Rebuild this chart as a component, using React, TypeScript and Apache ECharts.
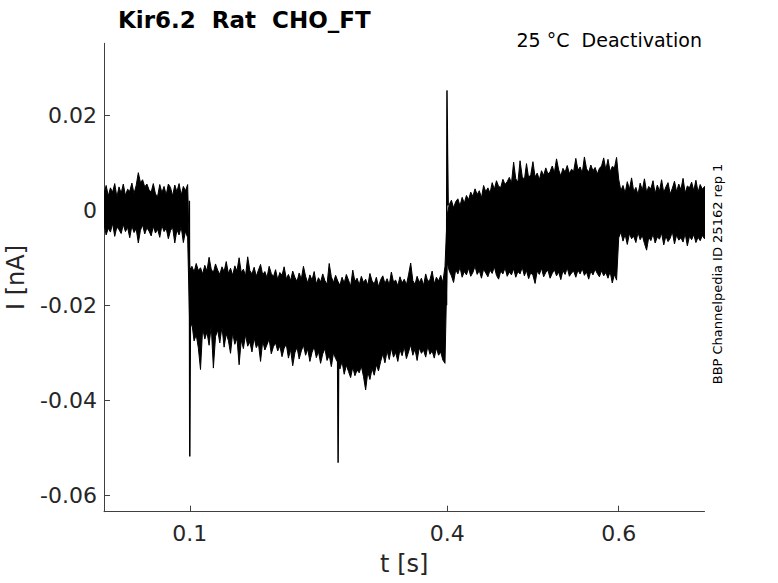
import React, { useEffect, useRef } from "react";
import * as echarts from "echarts";

// Sampling interval of the envelope samples [s]
const SAMPLE_DT = 0.0025;

// Upper / lower envelopes of the overlaid sweeps [nA]
const baseUpper = [0.0035, 0.0052, 0.0030, 0.0047, 0.0038, 0.0056, 0.0028, 0.0049, 0.0036, 0.0055, 0.0031, 0.0044, 0.0040, 0.0057, 0.0035, 0.0052, 0.0079, 0.0058, 0.0064, 0.0049, 0.0055, 0.0043, 0.0038, 0.0056, 0.0034, 0.0029, 0.0054, 0.0037, 0.0050, 0.0032, 0.0055, 0.0048, 0.0030, 0.0053, 0.0039, 0.0056, 0.0032, 0.0050, 0.0041, 0.0054];
const baseLower = [-0.0030, -0.0052, -0.0038, -0.0046, -0.0028, -0.0055, -0.0035, -0.0041, -0.0049, -0.0030, -0.0045, -0.0036, -0.0058, -0.0033, -0.0047, -0.0039, -0.0069, -0.0042, -0.0031, -0.0050, -0.0037, -0.0044, -0.0054, -0.0034, -0.0048, -0.0040, -0.0057, -0.0032, -0.0045, -0.0038, -0.0060, -0.0043, -0.0036, -0.0069, -0.0041, -0.0052, -0.0035, -0.0068, -0.0044, -0.0058];

const pulseUpper = [
  -0.0125, -0.0118, -0.0130, -0.0112, -0.0127, -0.0121, -0.0134, -0.0116, -0.0128, -0.0099,
  -0.0124, -0.0131, -0.0113, -0.0126, -0.0135, -0.0119, -0.0129, -0.0108, -0.0133, -0.0122,
  -0.0137, -0.0117, -0.0128, -0.0100, -0.0131, -0.0124, -0.0138, -0.0098, -0.0127, -0.0134,
  -0.0120, -0.0139, -0.0126, -0.0114, -0.0136, -0.0129, -0.0142, -0.0118, -0.0133, -0.0140,
  -0.0125, -0.0146, -0.0131, -0.0137, -0.0119, -0.0144, -0.0135, -0.0148, -0.0128, -0.0141,
  -0.0150, -0.0132, -0.0145, -0.0118, -0.0139, -0.0153, -0.0136, -0.0147, -0.0129, -0.0155,
  -0.0142, -0.0151, -0.0134, -0.0148, -0.0156, -0.0112, -0.0140, -0.0152, -0.0137, -0.0149,
  -0.0158, -0.0141, -0.0153, -0.0135, -0.0147, -0.0160, -0.0126, -0.0150, -0.0143, -0.0157,
  -0.0139, -0.0152, -0.0145, -0.0158, -0.0133, -0.0149, -0.0155, -0.0141, -0.0161, -0.0146,
  -0.0138, -0.0154, -0.0144, -0.0157, -0.0130, -0.0151, -0.0147, -0.0159, -0.0140, -0.0153,
  -0.0145, -0.0157, -0.0136, -0.0111, -0.0148, -0.0156, -0.0139, -0.0152, -0.0143, -0.0158,
  -0.0134, -0.0150, -0.0146, -0.0128, -0.0155, -0.0141, -0.0149, -0.0137, -0.0152, -0.0118,
];
const pulseLower = [
  -0.0250, -0.0238, -0.0275, -0.0262, -0.0290, -0.0335, -0.0248, -0.0271, -0.0256, -0.0284,
  -0.0243, -0.0332, -0.0266, -0.0252, -0.0279, -0.0245, -0.0288, -0.0260, -0.0274, -0.0301,
  -0.0258, -0.0282, -0.0269, -0.0325, -0.0273, -0.0291, -0.0262, -0.0286, -0.0277, -0.0298,
  -0.0268, -0.0289, -0.0280, -0.0318, -0.0275, -0.0294, -0.0283, -0.0271, -0.0302, -0.0287,
  -0.0279, -0.0296, -0.0285, -0.0308, -0.0290, -0.0282, -0.0311, -0.0293, -0.0327, -0.0300,
  -0.0288, -0.0313, -0.0296, -0.0284, -0.0305, -0.0292, -0.0318, -0.0299, -0.0287, -0.0310,
  -0.0297, -0.0322, -0.0302, -0.0291, -0.0316, -0.0305, -0.0329, -0.0300, -0.0312, -0.0320,
  -0.0334, -0.0318, -0.0345, -0.0326, -0.0339, -0.0352, -0.0330, -0.0348, -0.0336, -0.0342,
  -0.0328, -0.0350, -0.0378, -0.0340, -0.0356, -0.0333, -0.0347, -0.0325, -0.0338, -0.0318,
  -0.0302, -0.0321, -0.0296, -0.0314, -0.0290, -0.0309, -0.0299, -0.0318, -0.0293, -0.0306,
  -0.0287, -0.0312, -0.0298, -0.0283, -0.0305, -0.0292, -0.0316, -0.0289, -0.0301, -0.0294,
  -0.0309, -0.0286, -0.0303, -0.0296, -0.0311, -0.0290, -0.0305, -0.0298, -0.0315, -0.0322,
];

const tailUpper = [
  -0.0010, 0.0012, 0.0021, 0.0005, 0.0018, 0.0024, 0.0009, 0.0027, 0.0015, 0.0031,
  0.0022, 0.0038, 0.0029, 0.0045, 0.0033, 0.0041, 0.0026, 0.0052, 0.0039, 0.0047,
  0.0036, 0.0058, 0.0044, 0.0062, 0.0050, 0.0048, 0.0065, 0.0054, 0.0060, 0.0069,
  0.0057, 0.0101, 0.0066, 0.0059, 0.0104, 0.0071, 0.0063, 0.0098, 0.0068, 0.0075,
  0.0102, 0.0070, 0.0078, 0.0064, 0.0083, 0.0073, 0.0089, 0.0076, 0.0081, 0.0093,
  0.0079, 0.0108, 0.0085, 0.0072, 0.0088, 0.0080, 0.0094, 0.0077, 0.0086, 0.0082,
  0.0109, 0.0084, 0.0091, 0.0078, 0.0112, 0.0087, 0.0080, 0.0095, 0.0083, 0.0090,
  0.0076, 0.0088, 0.0093, 0.0110, 0.0085, 0.0107, 0.0081, 0.0092, 0.0089, 0.0111,
];
const tailLower = [
  -0.0110, -0.0128, -0.0138, -0.0152, -0.0125, -0.0134, -0.0120, -0.0141, -0.0129, -0.0136,
  -0.0122, -0.0139, -0.0131, -0.0118, -0.0135, -0.0127, -0.0143, -0.0124, -0.0132, -0.0140,
  -0.0126, -0.0133, -0.0119, -0.0137, -0.0145, -0.0128, -0.0134, -0.0121, -0.0139, -0.0130,
  -0.0136, -0.0123, -0.0141, -0.0129, -0.0134, -0.0120, -0.0138, -0.0127, -0.0144, -0.0131,
  -0.0137, -0.0154, -0.0128, -0.0135, -0.0122, -0.0140, -0.0131, -0.0126, -0.0143, -0.0133,
  -0.0125, -0.0138, -0.0130, -0.0146, -0.0127, -0.0135, -0.0121, -0.0139, -0.0132, -0.0128,
  -0.0141, -0.0126, -0.0134, -0.0123, -0.0137, -0.0130, -0.0145, -0.0128, -0.0136, -0.0124,
  -0.0133, -0.0140, -0.0127, -0.0138, -0.0131, -0.0143, -0.0129, -0.0153, -0.0135, -0.0147,
];

const endUpper = [0.0065, 0.0041, 0.0052, 0.0036, 0.0060, 0.0044, 0.0068, 0.0039, 0.0048, 0.0033, 0.0057, 0.0042, 0.0066, 0.0038, 0.0050, 0.0045, 0.0062, 0.0035, 0.0053, 0.0040, 0.0064, 0.0037, 0.0049, 0.0058, 0.0034, 0.0046, 0.0061, 0.0039, 0.0055, 0.0043, 0.0067, 0.0036, 0.0051, 0.0047, 0.0059, 0.0041, 0.0063, 0.0038, 0.0054, 0.0044, 0.0050];
const endLower = [-0.0058, -0.0046, -0.0065, -0.0051, -0.0072, -0.0049, -0.0060, -0.0055, -0.0068, -0.0047, -0.0062, -0.0053, -0.0070, -0.0084, -0.0057, -0.0064, -0.0050, -0.0069, -0.0056, -0.0061, -0.0048, -0.0073, -0.0054, -0.0066, -0.0059, -0.0045, -0.0071, -0.0052, -0.0063, -0.0058, -0.0067, -0.0049, -0.0075, -0.0055, -0.0062, -0.0051, -0.0068, -0.0057, -0.0064, -0.0053, -0.0060];

// Capacitive transients [t (s), I (nA)]
const transientOn: [number, number][] = [[0.0995, 0.002], [0.1, -0.0518], [0.1008, -0.018]];
const transientMid: [number, number][] = [[0.2722, -0.024], [0.2729, -0.0531], [0.2736, -0.026]];
const transientOff: [number, number][] = [[0.3993, -0.02], [0.3998, 0.0252], [0.4004, 0.012], [0.4012, 0.001]];

// Axis ticks
const xTicks = [0.1, 0.4, 0.6];
const yTicks = [-0.06, -0.04, -0.02, 0, 0.02];

const TITLE = "Kir6.2  Rat  CHO_FT";
const SUBTITLE = "25 °C  Deactivation";
const SIDE_NOTE = "BBP Channelpedia ID 25162 rep 1";

const FONT = "DejaVu Sans";
const AXIS_COLOR = "#404040";
const TEXT_COLOR = "#262626";

export default function App() {
  const ref = useRef<HTMLDivElement>(null);

  useEffect(() => {
    if (!ref.current) return;
    const chart = echarts.init(ref.current, undefined, { renderer: "svg" });

    const upper = [...baseUpper, ...pulseUpper, ...tailUpper, ...endUpper];
    const lower = [...baseLower, ...pulseLower, ...tailLower, ...endLower];
    const times = upper.map((_, i) => +(i * SAMPLE_DT).toFixed(5));

    const lineBase = {
      type: "line" as const,
      symbol: "none",
      showSymbol: false,
      silent: true,
      clip: true,
    };

    chart.setOption({
      animation: false,
      backgroundColor: "#ffffff",
      textStyle: { fontFamily: FONT },
      grid: { left: 104, right: 73.5, top: 43.3, bottom: 71.3, containLabel: false, outerBoundsMode: "none" },
      xAxis: {
        type: "value",
        min: 0,
        max: 0.7,
        name: "t [s]",
        nameLocation: "middle",
        nameGap: 40,
        nameTextStyle: { fontFamily: FONT, fontSize: 24, color: TEXT_COLOR },
        axisLine: { show: true, onZero: false, lineStyle: { color: AXIS_COLOR, width: 1 } },
        axisTick: { show: true, inside: true, length: 6, customValues: xTicks, lineStyle: { color: AXIS_COLOR } },
        axisLabel: {
          show: true,
          customValues: xTicks,
          margin: 11,
          fontFamily: FONT,
          fontSize: 22,
          color: TEXT_COLOR,
          formatter: (v: number) => String(v),
        },
        splitLine: { show: false },
      },
      yAxis: {
        type: "value",
        min: -0.0634,
        max: 0.0351,
        name: "I [nA]",
        nameLocation: "middle",
        nameGap: 76,
        nameTextStyle: { fontFamily: FONT, fontSize: 24, color: TEXT_COLOR },
        axisLine: { show: true, onZero: false, lineStyle: { color: AXIS_COLOR, width: 1 } },
        axisTick: { show: true, inside: true, length: 6, customValues: yTicks, lineStyle: { color: AXIS_COLOR } },
        axisLabel: {
          show: true,
          customValues: yTicks,
          margin: 7,
          fontFamily: FONT,
          fontSize: 22,
          color: TEXT_COLOR,
          formatter: (v: number) => String(v),
        },
        splitLine: { show: false },
      },
      graphic: [
        {
          type: "text",
          x: 118,
          y: 20,
          style: {
            text: TITLE,
            fontFamily: FONT,
            fontSize: 23,
            fontWeight: "bold",
            fill: "#000000",
            align: "left",
            verticalAlign: "middle",
            textAlign: "left",
            textVerticalAlign: "middle",
          },
        },
        {
          type: "text",
          x: 702,
          y: 40,
          style: {
            text: SUBTITLE,
            fontFamily: FONT,
            fontSize: 19,
            fill: "#000000",
            align: "right",
            verticalAlign: "middle",
            textAlign: "right",
            textVerticalAlign: "middle",
          },
        },
        {
          type: "text",
          x: 717,
          y: 274,
          rotation: Math.PI / 2,
          style: {
            text: SIDE_NOTE,
            fontFamily: FONT,
            fontSize: 13,
            fill: "#000000",
            align: "center",
            verticalAlign: "middle",
            textAlign: "center",
            textVerticalAlign: "middle",
          },
        },
      ],
      series: [
        {
          type: "custom",
          name: "sweeps",
          silent: true,
          clip: true,
          data: [[0.35, 0]],
          encode: { x: 0, y: 1 },
          renderItem: (_params: any, api: any) => {
            const pts: number[][] = [];
            for (let i = 0; i < upper.length; i++) pts.push(api.coord([times[i], upper[i]]));
            for (let i = lower.length - 1; i >= 0; i--) pts.push(api.coord([times[i], lower[i]]));
            return {
              type: "polygon",
              shape: { points: pts },
              style: { fill: "#000000", stroke: "#000000", lineWidth: 1, lineJoin: "miter" },
            };
          },
        },
        { ...lineBase, name: "on", data: transientOn, lineStyle: { color: "#000000", width: 1.5 } },
        { ...lineBase, name: "mid", data: transientMid, lineStyle: { color: "#000000", width: 1.5 } },
        { ...lineBase, name: "off", data: transientOff, lineStyle: { color: "#000000", width: 1.5 } },
      ],
    });

    return () => chart.dispose();
  }, []);

  return (
    <div
      ref={ref}
      style={{ position: "fixed", left: 0, top: 0, width: 778, height: 583, background: "#fff" }}
    />
  );
}
